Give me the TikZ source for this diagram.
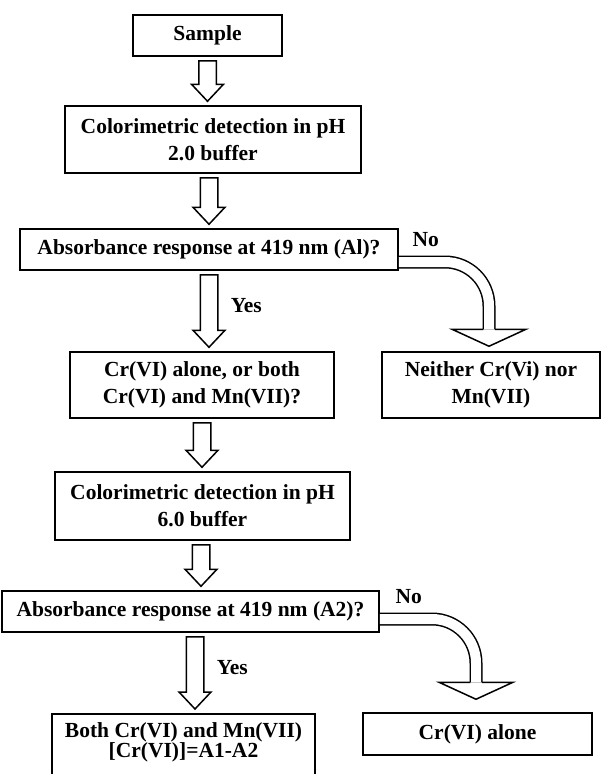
\documentclass[tikz,border=0pt]{standalone}
\usepackage{fontspec}
\setmainfont{Liberation Serif}
\usetikzlibrary{calc}

\begin{document}
\begin{tikzpicture}[font=\bfseries\fontsize{21.5pt}{27pt}\selectfont,
	box/.style={draw, line width=1.5pt, align=center, inner sep=0pt},
	blockarrow/.style={draw, line width=1.5pt, line join=miter, to path={
		let \p1=(\tikztostart), \p2=(\tikztotarget) in
		({\x1-8.75pt},\y1) -- ({\x1-8.75pt},{\y2+21pt}) \tikztonodes
		-- ({\x1-16pt},{\y2+21pt}) -- (\x1,{\y2+4pt}) -- ({\x1+16pt},{\y2+21pt})
		-- ({\x1+8.75pt},{\y2+21pt}) -- ({\x1+8.75pt},\y1) -- cycle}},
	band/.style={double=white, double distance=10pt, line width=1.5pt, rounded corners=44pt},
	pics/widehead/.style={code={\draw[line width=1.5pt, line join=miter]
		(-5.75pt,0pt) -- (-37pt,0pt) -- (0pt,-17pt) -- (37pt,0pt) -- (5.75pt,0pt);}},
	yeslabel/.style={pos=0.55, anchor=west, inner sep=0pt, xshift=29.75pt},
	nolabel/.style={anchor=south west, inner sep=0pt}]
	\useasboundingbox (0pt,0pt) rectangle (602pt,-774pt);
	\clip (0pt,0pt) rectangle (602pt,-774pt);

	%nodes
	\node (sample)[box, minimum width=149pt, minimum height=41pt] at (207.5pt,-35.5pt) {Sample};
	\node (buf2)[box, below of=sample, node distance=104pt, xshift=5.5pt,
		minimum width=296pt, minimum height=67pt] {Colorimetric detection in pH\\2.0 buffer};
	\node (abs1)[box, below of=buf2, node distance=110pt, xshift=-4pt,
		minimum width=378pt, minimum height=41pt] {Absorbance response at 419 nm (Al)?};
	\node (mix)[box, below of=abs1, node distance=135.5pt, xshift=-7pt,
		minimum width=264pt, minimum height=66pt] {Cr(VI) alone, or both\\Cr(VI) and Mn(VII)?};
	\node (neither)[box, right of=mix, node distance=289pt,
		minimum width=218pt, minimum height=66pt] {Neither Cr(Vi) nor\\Mn(VII)};
	\node (buf6)[box, below of=mix, node distance=121pt, xshift=0.5pt,
		minimum width=295pt, minimum height=68pt] {Colorimetric detection in pH\\6.0 buffer};
	\node (abs2)[box, below of=buf6, node distance=105.5pt, xshift=-12pt,
		minimum width=377pt, minimum height=41pt] {Absorbance response at 419 nm (A2)?};
	\node (both)[box, below of=abs2, node distance=101.5pt, xshift=-7pt, anchor=north,
		minimum width=263pt, inner ysep=9pt, text depth=30pt,
		font=\bfseries\fontsize{21.5pt}{20pt}\selectfont] {Both Cr(VI) and Mn(VII)\\{[Cr(VI)]=A1-A2}};
	\node (alone)[box, below of=abs2, node distance=122.5pt, xshift=287pt,
		minimum width=229pt, minimum height=42pt] {Cr(VI) alone};

	%links
	\draw[blockarrow] ([yshift=-4pt]sample.south) to (buf2.north);
	\draw[blockarrow] ([xshift=-4pt,yshift=-4pt]buf2.south) to (abs1.north);
	\draw[blockarrow] ([yshift=-4pt]abs1.south) to node[yeslabel] {Yes} (mix.north);
	\draw[blockarrow] ([yshift=-4pt]mix.south) to (buf6.north);
	\draw[blockarrow] ([xshift=-1.5pt,yshift=-4pt]buf6.south) to (abs2.north);
	\draw[blockarrow] ([xshift=4.5pt,yshift=-4pt]abs2.south) to node[yeslabel] {Yes} (both.north);

	\draw[band] ([yshift=-12.5pt]abs1.east) node[nolabel, xshift=13pt, yshift=15pt] {No}
		-| ($(neither.north)+(-2pt,22pt)$) coordinate (h1);
	\pic at (h1) {widehead};
	\draw[band] ([yshift=-7.5pt]abs2.east) node[nolabel, xshift=15pt, yshift=14.5pt] {No}
		-| ($(alone.north)+(-1.5pt,30pt)$) coordinate (h2);
	\pic at (h2) {widehead};
\end{tikzpicture}
\end{document}
